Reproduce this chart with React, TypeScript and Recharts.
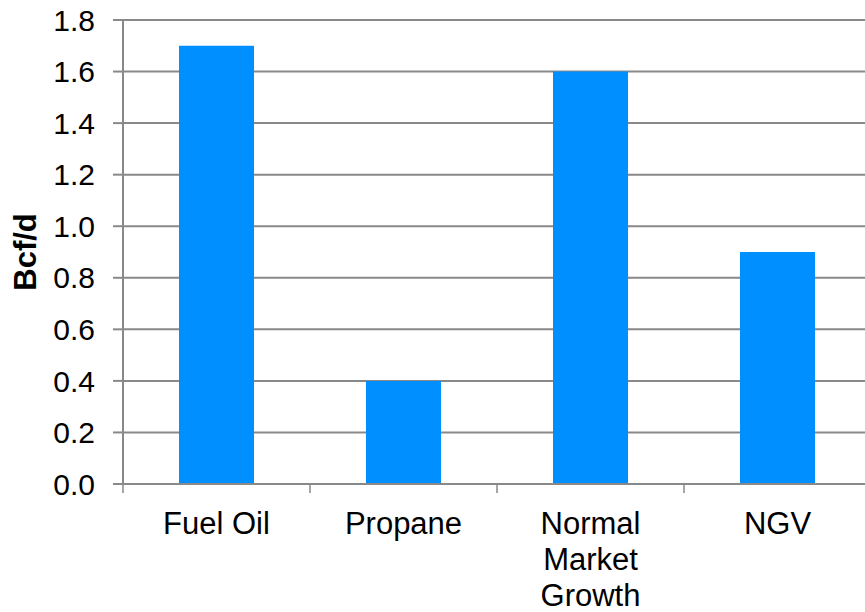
import { BarChart, Bar, XAxis, YAxis, CartesianGrid } from "recharts";

const categories = ["Fuel Oil", "Propane", "Normal Market Growth", "NGV"];
const values = [1.7, 0.4, 1.6, 0.9];
const yTicks = [0, 0.2, 0.4, 0.6, 0.8, 1.0, 1.2, 1.4, 1.6, 1.8];

const chartData = categories.map((name, i) => ({ name, value: values[i] }));

const FONT = "'Liberation Sans', Arial, sans-serif";
const GRID = "#898989";

// greedy word wrap by character count
const wrap = (label: string, maxChars = 10) => {
  const lines: string[] = [];
  let cur = "";
  label.split(" ").forEach((w) => {
    const next = cur ? `${cur} ${w}` : w;
    if (next.length > maxChars && cur) {
      lines.push(cur);
      cur = w;
    } else {
      cur = next;
    }
  });
  if (cur) lines.push(cur);
  return lines;
};

// category label plus the tick mark on the left edge of its band (and the right edge for the last one)
const CategoryTick = ({ x, y, payload, index, visibleTicksCount }: any) => {
  const half = payload.offset ?? 0;
  const left = payload.coordinate - half;
  const right = payload.coordinate + half;
  const isLast = index === visibleTicksCount - 1;
  const lines = wrap(String(payload.value));
  return (
    <g>
      <line x1={left} x2={left} y1={y} y2={y + 9} stroke={GRID} strokeWidth={1.5} />
      {isLast && <line x1={right} x2={right} y1={y} y2={y + 9} stroke={GRID} strokeWidth={1.5} />}
      <text x={x} y={y + 50} textAnchor="middle" fill="#000" style={{ fontSize: 31, fontFamily: FONT }}>
        {lines.map((l, i) => (
          <tspan key={i} x={x} dy={i === 0 ? 0 : 36}>
            {l}
          </tspan>
        ))}
      </text>
    </g>
  );
};

const AxisTitle = ({ viewBox }: any) => {
  const cx = viewBox.x + 25;
  const cy = viewBox.y + viewBox.height / 2;
  return (
    <text
      x={cx}
      y={cy}
      transform={`rotate(-90, ${cx}, ${cy})`}
      textAnchor="middle"
      dominantBaseline="central"
      fill="#000"
      style={{ fontSize: 31, fontWeight: "bold", fontFamily: FONT }}
    >
      Bcf/d
    </text>
  );
};

export default function App() {
  return (
    <div style={{ position: "absolute", left: 0, top: 0, width: 865, height: 612, overflow: "hidden", background: "#fff" }}>
      <BarChart
        width={871}
        height={612}
        data={chartData}
        margin={{ top: 20, right: 0, bottom: 0, left: 0 }}
      >
        <CartesianGrid vertical={false} stroke={GRID} strokeWidth={2} />
        <XAxis
          dataKey="name"
          height={128}
          tickLine={false}
          axisLine={{ stroke: GRID, strokeWidth: 2 }}
          tickSize={0}
          tickMargin={0}
          interval={0}
          tick={<CategoryTick />}
        />
        <YAxis
          width={123}
          domain={[0, 1.8]}
          ticks={yTicks}
          interval={0}
          tickFormatter={(v: number) => v.toFixed(1)}
          tickSize={10}
          tickMargin={18}
          axisLine={{ stroke: GRID, strokeWidth: 2 }}
          tickLine={{ stroke: GRID, strokeWidth: 2 }}
          tick={{ fill: "#000", fontSize: 30, fontFamily: FONT }}
          label={<AxisTitle />}
        />
        <Bar dataKey="value" fill="#008FFF" barSize={75} isAnimationActive={false} />
      </BarChart>
    </div>
  );
}
